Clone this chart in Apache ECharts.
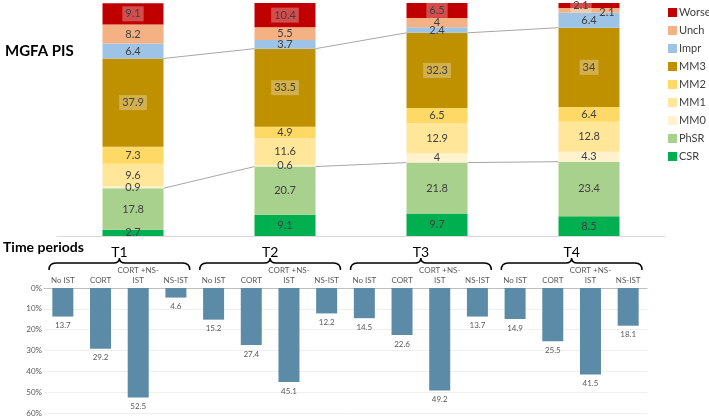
<!DOCTYPE html>
<html><head><meta charset="utf-8">
<script src="https://cdn.jsdelivr.net/npm/echarts@6/dist/echarts.min.js"></script>
<style>html,body{margin:0;padding:0;background:#fff}#c{width:709px;height:417px}</style>
</head><body><div id="c"></div>
<script>
// ---- data ----
const periods = ['T1', 'T2', 'T3', 'T4'];
const pisNames = ['CSR', 'PhSR', 'MM0', 'MM1', 'MM2', 'MM3', 'Impr', 'Unch', 'Worse'];
const CSR   = [2.7, 9.1, 9.7, 8.5];
const PhSR  = [17.8, 20.7, 21.8, 23.4];
const MM0   = [0.9, 0.6, 4, 4.3];
const MM1   = [9.6, 11.6, 12.9, 12.8];
const MM2   = [7.3, 4.9, 6.5, 6.4];
const MM3   = [37.9, 33.5, 32.3, 34];
const Impr  = [6.4, 3.7, 2.4, 6.4];
const Unch  = [8.2, 5.5, 4, 2.1];
const Worse = [9.1, 10.4, 6.5, 2.1];
const istCategories = ['No IST', 'CORT', 'CORT +NS-\nIST', 'NS-IST'];
const istValues = [13.7, 29.2, 52.5, 4.6, 15.2, 27.4, 45.1, 12.2, 14.5, 22.6, 49.2, 13.7, 14.9, 25.5, 41.5, 18.1];
const yTicksPct = [0, 10, 20, 30, 40, 50, 60];

// ---- style ----
const FONT = 'Lato';
const colors = {CSR:'#00b050', PhSR:'#a9d18e', MM0:'#fff2cc', MM1:'#ffe699', MM2:'#ffd966', MM3:'#bf9000', Impr:'#9dc3e6', Unch:'#f4b183', Worse:'#c00000'};
const pisData = {CSR, PhSR, MM0, MM1, MM2, MM3, Impr, Unch, Worse};
const BAR_W = 61;

const bottomCats = [];
periods.forEach(() => istCategories.forEach(c => bottomCats.push(c)));

// cumulative levels for series lines
function cumUpTo(name) {
  const idx = pisNames.indexOf(name);
  return periods.map((_, i) => pisNames.slice(0, idx + 1).reduce((s, n) => s + pisData[n][i], 0));
}
const cumPhSR = cumUpTo('PhSR');
const cumMM3 = cumUpTo('MM3');
const lineData = [];
for (let i = 0; i < periods.length - 1; i++) {
  lineData.push([i, cumPhSR[i], cumPhSR[i + 1]]);
  lineData.push([i, cumMM3[i], cumMM3[i + 1]]);
}

const series = pisNames.map(n => ({
  name: n, type: 'bar', stack: 'pis', xAxisIndex: 0, yAxisIndex: 0,
  barWidth: BAR_W,
  // tiny top segments: nudge labels apart as in the original
  data: pisData[n].map(v => (n === 'Unch' && v < 3) ? {value: v, label: {offset: [18, 2]}}
                         : (n === 'Worse' && v < 3) ? {value: v, label: {offset: [-8, 0]}} : v),
  itemStyle: {color: colors[n]},
  label: {
    show: true, position: 'inside', fontFamily: FONT, fontSize: 11, color: '#404040',
    backgroundColor: (n === 'MM3' || n === 'Worse') ? 'rgba(255,255,255,0.3)' : 'transparent',
    padding: (n === 'MM3' || n === 'Worse') ? [2, 3] : 0
  },
  emphasis: {disabled: true}
}));

series.push({
  type: 'custom', xAxisIndex: 0, yAxisIndex: 0, silent: true, data: lineData,
  encode: {x: 0, y: 1},
  renderItem: function (params, api) {
    const p1 = api.coord([api.value(0), api.value(1)]);
    const p2 = api.coord([api.value(0) + 1, api.value(2)]);
    return {type: 'line', shape: {x1: p1[0] + BAR_W / 2, y1: p1[1], x2: p2[0] - BAR_W / 2, y2: p2[1]},
      style: {stroke: '#a6a6a6', lineWidth: 1}};
  }
});

series.push({
  type: 'bar', xAxisIndex: 1, yAxisIndex: 1, data: istValues, barWidth: 21,
  itemStyle: {color: '#5b8ba6'},
  label: {show: true, position: 'bottom', distance: 5, fontFamily: FONT, fontSize: 8, color: '#595959'},
  emphasis: {disabled: true}
});

// braces + period labels
series.push({
  type: 'custom', xAxisIndex: 1, yAxisIndex: 1, silent: true, clip: false,
  data: periods.map((p, g) => [g * istCategories.length, 0]),
  encode: {x: 0, y: 1},
  renderItem: function (params, api) {
    const g = params.dataIndex;
    const n = istCategories.length;
    const a = api.coord([g * n, 0]);
    const b = api.coord([g * n + n - 1, 0]);
    const band = api.size([1, 0])[0];
    const x0 = a[0] - band / 2 + 5, x1 = b[0] + band / 2 - 5, xm = (x0 + x1) / 2;
    const y = a[1] - 25;
    const d = `M${x0} ${y + 7} Q${x0} ${y} ${x0 + 7} ${y} L${xm - 6} ${y} Q${xm} ${y} ${xm} ${y - 5} Q${xm} ${y} ${xm + 6} ${y} L${x1 - 7} ${y} Q${x1} ${y} ${x1} ${y + 7}`;
    return {type: 'group', children: [
      {type: 'path', shape: {pathData: d}, style: {stroke: '#000', lineWidth: 1.5, fill: null}},
      {type: 'text', style: {text: periods[g], x: xm, y: y - 11, align: 'center', verticalAlign: 'middle',
        font: `14px ${FONT}`, fill: '#000'}}
    ]};
  }
});

const chart = echarts.init(document.getElementById('c'), null, {renderer: 'canvas'});
chart.setOption({
  animation: false,
  textStyle: {fontFamily: FONT},
  grid: [
    {left: 57, right: 44, top: 3, bottom: 181, containLabel: false},
    {left: 44, right: 62, top: 288, bottom: 4, containLabel: false}
  ],
  legend: {
    orient: 'vertical', left: 668, top: 7, padding: 0, itemWidth: 9, itemHeight: 9, itemGap: 7,
    icon: 'rect', data: pisNames.slice().reverse(),
    textStyle: {fontFamily: FONT, fontSize: 11, color: '#404040', padding: [0, 0, 0, -3]}
  },
  xAxis: [
    {gridIndex: 0, type: 'category', data: periods, axisLabel: {show: false}, axisTick: {show: false},
      axisLine: {lineStyle: {color: '#d9d9d9'}}},
    {gridIndex: 1, type: 'category', data: bottomCats, position: 'top', axisTick: {show: false},
      axisLine: {lineStyle: {color: '#bfbfbf'}},
      axisLabel: {interval: 0, fontFamily: FONT, fontSize: 8, color: '#595959', margin: 3, lineHeight: 10}}
  ],
  yAxis: [
    {gridIndex: 0, type: 'value', min: 0, max: 100, show: false},
    {gridIndex: 1, type: 'value', min: yTicksPct[0], max: yTicksPct[yTicksPct.length - 1], interval: 10, inverse: true,
      axisLine: {show: false}, axisTick: {show: false},
      axisLabel: {formatter: '{value}%', fontFamily: FONT, fontSize: 8, color: '#595959', margin: 2},
      splitLine: {lineStyle: {color: '#efefef'}}}
  ],
  graphic: [
    {type: 'text', left: 5, top: 44, style: {text: 'MGFA PIS', font: `bold 15px ${FONT}`, fill: '#000'}},
    {type: 'text', left: 3, top: 240, style: {text: 'Time periods', font: `bold 14px ${FONT}`, fill: '#000'}}
  ],
  series: series
});
</script></body></html>
